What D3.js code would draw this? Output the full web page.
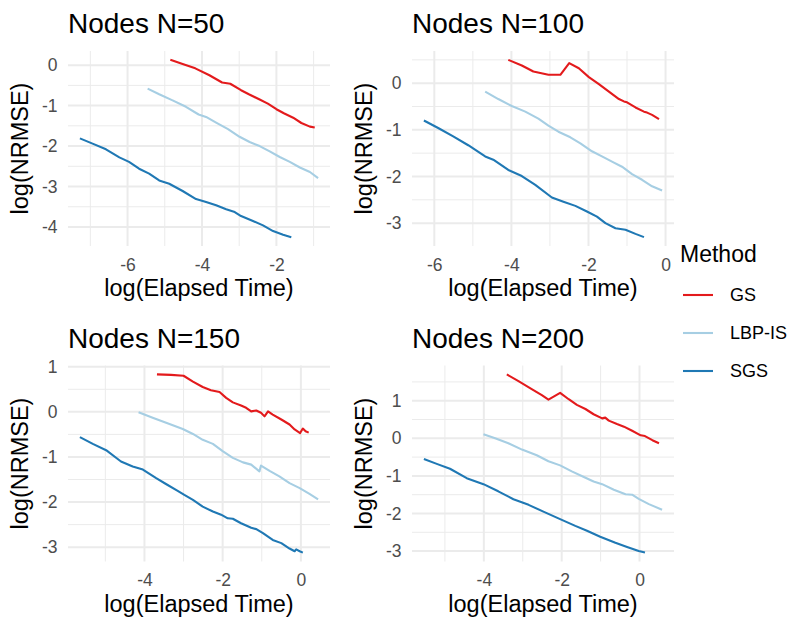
<!DOCTYPE html>
<html>
<head>
<meta charset="utf-8">
<script src="https://cdn.jsdelivr.net/npm/d3@7"></script>
<style>
	html, body { margin: 0; padding: 0; background: #fff; }
	svg { display: block; font-family: "Liberation Sans", Arial, Helvetica, sans-serif; }
</style>
</head>
<body>
<div id="chart"></div>
<script>
var panelTitles = ["Nodes N=50", "Nodes N=100", "Nodes N=150", "Nodes N=200"];
var methods = ["GS", "LBP-IS", "SGS"];
var methodColors = ["#E31A1C", "#A6CEE3", "#1F78B4"];

// [log(elapsed time), log(NRMSE)]
var n50GS = [[-4.85,0.13],[-4.52,0.03],[-4.18,-0.08],[-3.80,-0.25],[-3.46,-0.43],[-3.24,-0.46],[-2.95,-0.62],[-2.74,-0.72],[-2.45,-0.85],[-2.23,-0.95],[-2.00,-1.09],[-1.80,-1.19],[-1.55,-1.30],[-1.33,-1.43],[-1.10,-1.52],[-0.97,-1.54]];
var n50LBP = [[-5.46,-0.58],[-5.15,-0.72],[-4.79,-0.87],[-4.43,-1.03],[-4.09,-1.22],[-3.89,-1.28],[-3.62,-1.42],[-3.30,-1.58],[-2.99,-1.77],[-2.72,-1.90],[-2.45,-2.00],[-2.18,-2.13],[-1.91,-2.27],[-1.64,-2.39],[-1.37,-2.53],[-1.10,-2.64],[-0.88,-2.79]];
var n50SGS = [[-7.28,-1.81],[-6.94,-1.94],[-6.58,-2.08],[-6.22,-2.28],[-5.96,-2.39],[-5.69,-2.56],[-5.42,-2.68],[-5.15,-2.85],[-4.88,-2.93],[-4.52,-3.11],[-4.16,-3.31],[-3.89,-3.38],[-3.62,-3.46],[-3.35,-3.56],[-3.12,-3.63],[-2.95,-3.73],[-2.63,-3.85],[-2.36,-3.96],[-2.09,-4.10],[-1.82,-4.19],[-1.60,-4.25]];

var n100GS = [[-4.08,0.50],[-3.73,0.38],[-3.43,0.25],[-3.04,0.18],[-2.73,0.18],[-2.50,0.43],[-2.25,0.32],[-1.99,0.13],[-1.73,-0.02],[-1.47,-0.18],[-1.21,-0.34],[-1.08,-0.39],[-1.00,-0.41],[-0.78,-0.52],[-0.56,-0.61],[-0.48,-0.63],[-0.35,-0.68],[-0.17,-0.77]];
var n100LBP = [[-4.68,-0.18],[-4.34,-0.34],[-3.99,-0.49],[-3.64,-0.61],[-3.30,-0.76],[-3.04,-0.91],[-2.78,-1.04],[-2.47,-1.16],[-2.21,-1.29],[-1.91,-1.46],[-1.65,-1.57],[-1.39,-1.68],[-1.13,-1.79],[-0.87,-1.95],[-0.61,-2.07],[-0.35,-2.21],[-0.09,-2.30]];
var n100SGS = [[-6.27,-0.80],[-5.90,-0.96],[-5.51,-1.14],[-5.12,-1.33],[-4.68,-1.57],[-4.47,-1.64],[-4.08,-1.86],[-3.73,-1.99],[-3.38,-2.18],[-2.95,-2.45],[-2.65,-2.54],[-2.34,-2.63],[-2.04,-2.75],[-1.78,-2.86],[-1.56,-3.00],[-1.30,-3.11],[-1.04,-3.14],[-0.78,-3.23],[-0.56,-3.30]];

var n150GS = [[-3.68,0.83],[-3.32,0.82],[-3.00,0.80],[-2.76,0.67],[-2.51,0.55],[-2.30,0.48],[-2.08,0.44],[-1.91,0.31],[-1.74,0.21],[-1.53,0.14],[-1.40,0.09],[-1.27,0.01],[-1.14,0.03],[-1.02,-0.02],[-0.93,-0.10],[-0.84,0.01],[-0.72,-0.06],[-0.50,-0.17],[-0.29,-0.28],[-0.16,-0.39],[-0.02,-0.47],[0.05,-0.37],[0.12,-0.43],[0.20,-0.46]];
var n150LBP = [[-4.15,-0.01],[-3.79,-0.13],[-3.36,-0.27],[-3.02,-0.38],[-2.76,-0.49],[-2.51,-0.62],[-2.25,-0.71],[-2.00,-0.87],[-1.74,-1.02],[-1.48,-1.12],[-1.27,-1.17],[-1.06,-1.32],[-1.02,-1.19],[-0.80,-1.31],[-0.55,-1.43],[-0.29,-1.58],[-0.03,-1.69],[0.22,-1.82],[0.44,-1.94]];
var n150SGS = [[-5.65,-0.56],[-5.32,-0.71],[-4.98,-0.85],[-4.60,-1.10],[-4.30,-1.21],[-4.04,-1.28],[-3.70,-1.47],[-3.45,-1.60],[-3.15,-1.75],[-2.98,-1.84],[-2.76,-1.95],[-2.51,-2.10],[-2.25,-2.21],[-2.04,-2.28],[-1.87,-2.36],[-1.74,-2.37],[-1.53,-2.47],[-1.27,-2.57],[-1.14,-2.60],[-0.97,-2.69],[-0.72,-2.84],[-0.50,-2.91],[-0.29,-3.03],[-0.16,-3.09],[-0.12,-3.05],[-0.03,-3.09],[0.05,-3.12]];

var n200GS = [[-3.41,1.70],[-3.11,1.52],[-2.77,1.31],[-2.51,1.15],[-2.34,1.03],[-2.04,1.21],[-1.82,1.04],[-1.61,0.89],[-1.39,0.78],[-1.18,0.64],[-0.96,0.53],[-0.88,0.55],[-0.79,0.47],[-0.58,0.38],[-0.40,0.31],[-0.19,0.20],[0.03,0.08],[0.14,0.06],[0.33,-0.05],[0.50,-0.13]];
var n200LBP = [[-4.01,0.11],[-3.71,0.00],[-3.37,-0.13],[-3.02,-0.30],[-2.64,-0.45],[-2.34,-0.61],[-2.04,-0.72],[-1.74,-0.88],[-1.43,-1.03],[-1.18,-1.15],[-0.96,-1.22],[-0.66,-1.37],[-0.36,-1.49],[-0.19,-1.50],[-0.02,-1.61],[0.24,-1.75],[0.58,-1.90]];
var n200SGS = [[-5.54,-0.55],[-5.21,-0.68],[-4.87,-0.81],[-4.44,-1.06],[-4.01,-1.22],[-3.63,-1.41],[-3.24,-1.62],[-2.85,-1.77],[-2.47,-1.95],[-2.04,-2.15],[-1.65,-2.33],[-1.35,-2.46],[-1.01,-2.62],[-0.62,-2.78],[-0.32,-2.89],[-0.02,-3.00],[0.14,-3.04]];

// axis breaks per panel
var xTicks50 = [-6, -4, -2];
var yTicks50 = [0, -1, -2, -3, -4];
var xTicks100 = [-6, -4, -2, 0];
var yTicks100 = [0, -1, -2, -3];
var xTicks150 = [-4, -2, 0];
var yTicks150 = [1, 0, -1, -2, -3];
var xTicks200 = [-4, -2, 0];
var yTicks200 = [1, 0, -1, -2, -3];

var panels = [
	{ title: panelTitles[0], series: [n50GS, n50LBP, n50SGS], xTicks: xTicks50, yTicks: yTicks50 },
	{ title: panelTitles[1], series: [n100GS, n100LBP, n100SGS], xTicks: xTicks100, yTicks: yTicks100 },
	{ title: panelTitles[2], series: [n150GS, n150LBP, n150SGS], xTicks: xTicks150, yTicks: yTicks150 },
	{ title: panelTitles[3], series: [n200GS, n200LBP, n200SGS], xTicks: xTicks200, yTicks: yTicks200 }
];

var width = 789, height = 631;
var colLeft = [68, 412], panelWidth = 262;
var rowTop = [51, 365.5], panelHeight = [195, 196];
var gridColor = "#EBEBEB";

var svg = d3.select("#chart").append("svg")
	.attr("width", width)
	.attr("height", height);

// ggplot-style 5% expansion of the data range
function expanded(values) {
	var ext = d3.extent(values), pad = (ext[1] - ext[0]) * 0.05;
	return [ext[0] - pad, ext[1] + pad];
}

// minor breaks sit halfway between the major ones
function minorBreaks(major, domain) {
	var step = Math.abs(major[1] - major[0]);
	var lo = d3.min(major) - step, hi = d3.max(major) + step, out = [];
	for (var v = lo + step / 2; v < hi; v += step) {
		if (v > domain[0] && v < domain[1]) out.push(v);
	}
	return out;
}

panels.forEach(function(p, i) {
	var left = colLeft[i % 2], top = rowTop[Math.floor(i / 2)], h = panelHeight[Math.floor(i / 2)];
	var all = d3.merge(p.series);
	var xDom = expanded(all.map(function(d) { return d[0]; }));
	var yDom = expanded(all.map(function(d) { return d[1]; }));

	var x = d3.scaleLinear().domain(xDom).range([0, panelWidth]);
	var y = d3.scaleLinear().domain(yDom).range([h, 0]);

	var g = svg.append("g").attr("transform", "translate(" + left + "," + top + ")");

	// grid: minor then major
	g.selectAll(".minor-x").data(minorBreaks(p.xTicks, xDom)).enter()
		.append("line")
			.attr("x1", function(d) { return x(d); }).attr("x2", function(d) { return x(d); })
			.attr("y1", 0).attr("y2", h)
			.attr("stroke", gridColor).attr("stroke-width", 1);
	g.selectAll(".minor-y").data(minorBreaks(p.yTicks, yDom)).enter()
		.append("line")
			.attr("y1", function(d) { return y(d); }).attr("y2", function(d) { return y(d); })
			.attr("x1", 0).attr("x2", panelWidth)
			.attr("stroke", gridColor).attr("stroke-width", 1);
	g.selectAll(".major-x").data(p.xTicks).enter()
		.append("line")
			.attr("x1", function(d) { return x(d); }).attr("x2", function(d) { return x(d); })
			.attr("y1", 0).attr("y2", h)
			.attr("stroke", gridColor).attr("stroke-width", 2);
	g.selectAll(".major-y").data(p.yTicks).enter()
		.append("line")
			.attr("y1", function(d) { return y(d); }).attr("y2", function(d) { return y(d); })
			.attr("x1", 0).attr("x2", panelWidth)
			.attr("stroke", gridColor).attr("stroke-width", 2);

	// tick labels via d3 axes, no tick marks or domain line
	var xAxis = g.append("g")
		.attr("transform", "translate(0," + h + ")")
		.call(d3.axisBottom(x).tickValues(p.xTicks).tickSize(0).tickPadding(12.5).tickFormat(d3.format("d")));
	var yAxis = g.append("g")
		.call(d3.axisLeft(y).tickValues(p.yTicks).tickSize(0).tickPadding(10.5).tickFormat(d3.format("d")));
	[xAxis, yAxis].forEach(function(a) {
		a.select(".domain").remove();
		a.selectAll("text")
			.attr("fill", "#4D4D4D")
			.style("font-size", "17.5px")
			.style("font-family", "'Liberation Sans', Arial, sans-serif")
			.text(function(d) { return String(d).replace("\u2212", "-"); });
	});

	// lines
	var line = d3.line()
		.x(function(d) { return x(d[0]); })
		.y(function(d) { return y(d[1]); });
	g.selectAll(".series").data(p.series).enter()
		.append("path")
			.attr("d", line)
			.attr("fill", "none")
			.attr("stroke", function(d, k) { return methodColors[k]; })
			.attr("stroke-width", 2.1)
			.attr("stroke-linejoin", "round");

	// titles
	g.append("text")
		.attr("x", 0).attr("y", -18)
		.style("font-size", "28px")
		.text(p.title);
	g.append("text")
		.attr("x", panelWidth / 2).attr("y", h + 50)
		.attr("text-anchor", "middle")
		.style("font-size", "23.5px")
		.text("log(Elapsed Time)");
	g.append("text")
		.attr("transform", "translate(-40," + (h / 2) + ") rotate(-90)")
		.attr("text-anchor", "middle")
		.style("font-size", "23.5px")
		.text("log(NRMSE)");
});

// legend
var legend = svg.append("g").attr("transform", "translate(680,0)");
legend.append("text")
	.attr("x", 0).attr("y", 262)
	.style("font-size", "23px")
	.text("Method");
var keys = legend.selectAll(".key").data(methods).enter()
	.append("g")
		.attr("transform", function(d, k) { return "translate(0," + (295 + k * 38) + ")"; });
keys.append("line")
	.attr("x1", 3).attr("x2", 33)
	.attr("stroke", function(d, k) { return methodColors[k]; })
	.attr("stroke-width", 2.1);
keys.append("text")
	.attr("x", 50).attr("dy", "0.35em")
	.style("font-size", "18px")
	.text(function(d) { return d; });
</script>
</body>
</html>
